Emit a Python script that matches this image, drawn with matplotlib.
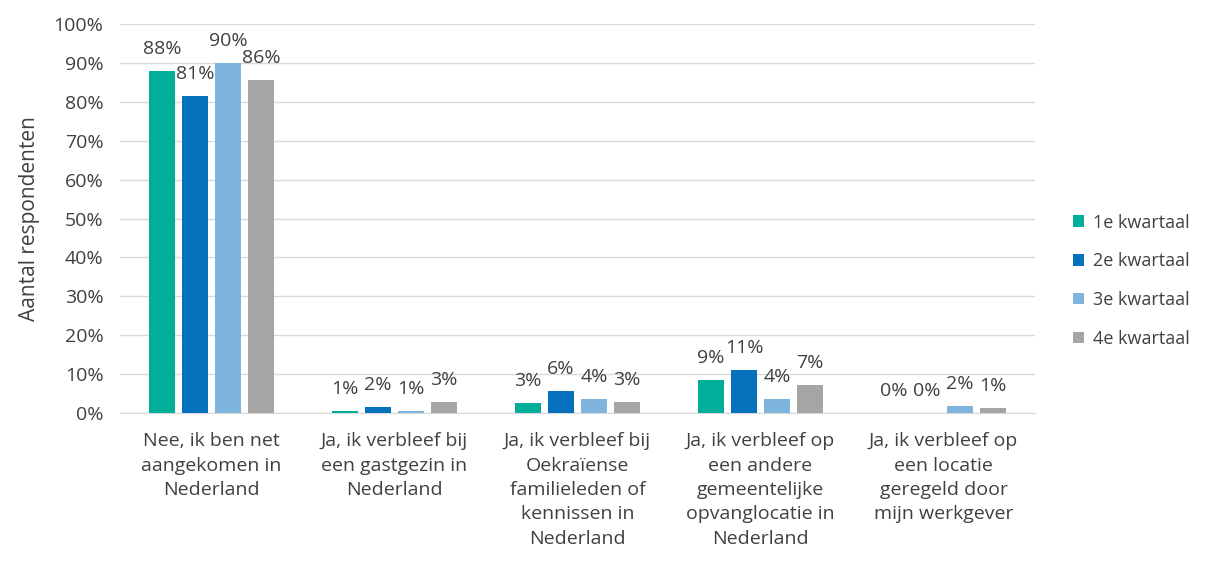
import numpy as np
import matplotlib
matplotlib.use('Agg')
import matplotlib.pyplot as plt
from matplotlib.ticker import PercentFormatter

plt.rcParams['font.family'] = ['Open Sans', 'DejaVu Sans']

categories = [
    "Nee, ik ben net\naangekomen in\nNederland",
    "Ja, ik verbleef bij\neen gastgezin in\nNederland",
    "Ja, ik verbleef bij\nOekraïense\nfamilieleden of\nkennissen in\nNederland",
    "Ja, ik verbleef op\neen andere\ngemeentelijke\nopvanglocatie in\nNederland",
    "Ja, ik verbleef op\neen locatie\ngeregeld door\nmijn werkgever",
]
series_names = ["1e kwartaal", "2e kwartaal", "3e kwartaal", "4e kwartaal"]
q1 = [87.9, 0.6, 2.6, 8.6, 0.0]
q2 = [81.4, 1.6, 5.6, 11.1, 0.0]
q3 = [89.9, 0.6, 3.6, 3.6, 1.9]
q4 = [85.6, 2.8, 2.7, 7.1, 1.3]
colors = ['#00AE9A', '#0571BD', '#7FB5DC', '#A5A5A5']

fs = 14

fig = plt.figure(figsize=(12.13, 5.71), dpi=100)
ax = fig.add_axes([120/1213, 1 - 413/571, 915/1213, 389/571])

x = np.arange(len(categories))
width = 0.142
step = 0.18
for i, (vals, name, c) in enumerate(zip([q1, q2, q3, q4], series_names, colors)):
    pos = x + (i - 1.5) * step
    ax.bar(pos, vals, width=width, color=c, label=name, zorder=3)
    for p, v in zip(pos, vals):
        ax.annotate(f"{v:.0f}%", (p, v), xytext=(0, 22), textcoords='offset pixels',
                    ha='center', va='center', fontsize=fs, color='#404040', zorder=4)

ax.set_xlim(-0.5, len(categories) - 0.5)
ax.set_ylim(0, 100)
ax.set_yticks(np.arange(0, 101, 10))
ax.yaxis.set_major_formatter(PercentFormatter(decimals=0))
ax.set_xticks(x)
ax.set_xticklabels(categories, linespacing=1.45)
ax.tick_params(axis='both', length=0, labelsize=fs, labelcolor='#404040')
ax.tick_params(axis='x', pad=14)
ax.tick_params(axis='y', pad=12)
ax.grid(axis='y', color='#D9D9D9', linewidth=1, zorder=0)
for s in ['top', 'right', 'left']:
    ax.spines[s].set_visible(False)
ax.spines['bottom'].set_color('#D9D9D9')
ax.set_ylabel('Aantal respondenten', fontsize=fs + 1, color='#404040', labelpad=10)

ax.legend(loc='center left', bbox_to_anchor=(1.028, 0.34), frameon=False,
          fontsize=13, labelcolor='#404040', handlelength=0.6, handleheight=0.6,
          labelspacing=1.15, handletextpad=0.5, borderpad=0.2)

fig.savefig('out.png', dpi=100)
